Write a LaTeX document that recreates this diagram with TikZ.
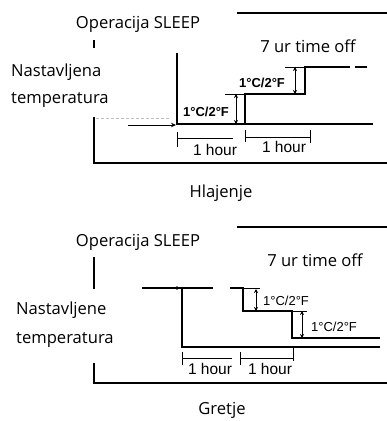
\documentclass[tikz,border=0pt]{standalone}
\usepackage{fontspec}
\setmainfont{Open Sans}
\newfontfamily\arialf{Liberation Sans}
\usetikzlibrary{arrows.meta}
\tikzset{
  lbl/.style={font=\fontsize{16.6}{18}\selectfont, inner sep=0pt},
  deg/.style={font=\arialf\bfseries\fontsize{13}{14}\selectfont, inner sep=0pt},
  degr/.style={font=\arialf\fontsize{13}{14}\selectfont, inner sep=0pt},
  hr/.style={font=\arialf\fontsize{15.5}{16}\selectfont, inner sep=0pt},
  frameline/.style={line width=1.6pt},
  stepline/.style={line width=1.3pt},
  thinline/.style={line width=0.9pt},
  dimarrow/.style={line width=0.9pt, {Stealth[length=4pt,width=4pt]}-{Stealth[length=4pt,width=4pt]}},
}
\begin{document}
\begin{tikzpicture}[x=1pt,y=-1pt]
\useasboundingbox (0,0) rectangle (387,421);
% ================= TOP (Hlajenje) =================
\node[lbl] (t1) at (138,24) {Operacija SLEEP};
\node[lbl] (t2) at (308,46) {7 ur time off};
\node[lbl,anchor=west] (t3) at (11,72) {Nastavljena};
\node[lbl,anchor=west] (t4) at (11,100) {temperatura};
\node[lbl] (t5) at (221,193) {Hlajenje};
% frame
\coordinate (fa1) at (237,13);
\coordinate (fa2) at (387,13);
\draw[frameline] (fa1) -- (fa2);
\coordinate (fb1) at (94,40);
\coordinate (fb2) at (94,48);
\draw[frameline] (fb1) -- (fb2);
\coordinate (fc1) at (94,117);
\coordinate (fc2) at (94,163);
\coordinate (fc3) at (387,163);
\draw[frameline] (fc1) -- (fc2) -- (fc3);
% faint dashed
\coordinate (dd1) at (96,118);
\coordinate (dd2) at (170,118);
\draw[gray!50, line width=0.5pt, densely dashed] (dd1) -- (dd2);
% arrow in
\coordinate (ar1) at (128,125);
\coordinate (ar2) at (176,125);
\draw[thinline, -{Stealth[length=5pt,width=4.5pt]}] (ar1) -- (ar2);
% main lines
\coordinate (v1a) at (177,53);
\coordinate (v1b) at (177,124);
\coordinate (base) at (373,124);
\draw[stepline] (v1a) -- (v1b) -- (base);
\coordinate (s1a) at (245,124);
\coordinate (s1b) at (245,94);
\coordinate (s1c) at (305,94);
\coordinate (s1d) at (305,67);
\coordinate (s1e) at (350,67);
\draw[stepline] (s1a) -- (s1b) -- (s1c) -- (s1d) -- (s1e);
\coordinate (s1f) at (355,67);
\coordinate (s1g) at (367,67);
\draw[stepline] (s1f) -- (s1g);
\coordinate (ex1a) at (225,94);
\draw[thinline] (ex1a) -- (s1b);
\coordinate (ex2a) at (285,67);
\draw[thinline] (ex2a) -- (s1d);
% dimension arrows
\coordinate (da1) at (236,94);
\coordinate (da2) at (236,124);
\draw[dimarrow] (da1) -- (da2);
\coordinate (db1) at (295,67);
\coordinate (db2) at (295,94);
\draw[dimarrow] (db1) -- (db2);
\node[deg] (d1) at (206,112) {1°C/2°F};
\node[deg] (d2) at (262,83) {1°C/2°F};
% hour brackets
\coordinate (h1a) at (177,132);
\coordinate (h1b) at (177,147);
\draw[thinline] (h1a) -- (h1b);
\coordinate (h1c) at (177,138);
\coordinate (h1d) at (233,138);
\draw[thinline] (h1c) -- (h1d);
\coordinate (h2a) at (245,130);
\coordinate (h2b) at (245,142);
\draw[thinline] (h2a) -- (h2b);
\coordinate (h2c) at (245,137);
\coordinate (h2d) at (310,137);
\draw[thinline] (h2c) -- (h2d);
\coordinate (h2e) at (310,130);
\coordinate (h2f) at (310,143);
\draw[thinline] (h2e) -- (h2f);
\node[hr] (hh1) at (215,150) {1 hour};
\node[hr] (hh2) at (284,147) {1 hour};

% ================= BOTTOM (Gretje) =================
\node[lbl] (b1) at (138,242) {Operacija SLEEP};
\node[lbl] (b2) at (315,260) {7 ur time off};
\node[lbl,anchor=west] (b3) at (16,310) {Nastavljene};
\node[lbl,anchor=west] (b4) at (16,340) {temperatura};
\node[lbl] (b5) at (222,410) {Gretje};
% frame
\coordinate (ga1) at (237,227);
\coordinate (ga2) at (387,227);
\draw[frameline] (ga1) -- (ga2);
\coordinate (gb1) at (94,257);
\coordinate (gb2) at (94,289);
\draw[frameline] (gb1) -- (gb2);
\coordinate (gc1) at (94,363);
\coordinate (gc2) at (94,383);
\coordinate (gc3) at (387,383);
\draw[frameline] (gc1) -- (gc2) -- (gc3);
% lines
\coordinate (p0) at (142,288);
\coordinate (p1) at (213,288);
\draw[stepline] (p0) -- (p1);
\coordinate (pd) at (177,288);
\fill (pd) circle (1.8pt);
\coordinate (w1a) at (182,288);
\coordinate (w1b) at (182,347);
\coordinate (w1c) at (380,347);
\draw[stepline] (w1a) -- (w1b) -- (w1c);
\coordinate (q0) at (230,288);
\coordinate (q1) at (243,288);
\coordinate (q2) at (243,311);
\coordinate (q3) at (292,311);
\coordinate (q4) at (292,338);
\coordinate (q5) at (380,338);
\draw[stepline] (q0) -- (q1) -- (q2) -- (q3) -- (q4) -- (q5);
\coordinate (qx1) at (260,288);
\draw[thinline] (q1) -- (qx1);
\coordinate (qx2) at (307,311);
\draw[thinline] (q3) -- (qx2);
% dimension arrows
\coordinate (ea1) at (256,289);
\coordinate (ea2) at (256,311);
\draw[dimarrow] (ea1) -- (ea2);
\coordinate (eb1) at (302,311);
\coordinate (eb2) at (302,338);
\draw[dimarrow] (eb1) -- (eb2);
\node[degr] (e1) at (286,301) {1°C/2°F};
\node[degr] (e2) at (334,327) {1°C/2°F};
% hour brackets
\coordinate (k1a) at (182,352);
\coordinate (k1b) at (182,365);
\draw[thinline] (k1a) -- (k1b);
\coordinate (k1c) at (182,358);
\coordinate (k1d) at (232,358);
\draw[thinline] (k1c) -- (k1d);
\coordinate (k2a) at (240,352);
\coordinate (k2b) at (240,365);
\draw[thinline] (k2a) -- (k2b);
\coordinate (k2c) at (240,358);
\coordinate (k2d) at (293,358);
\draw[thinline] (k2c) -- (k2d);
\coordinate (k2e) at (293,348);
\coordinate (k2f) at (293,361);
\draw[thinline] (k2e) -- (k2f);
\node[hr] (kk1) at (210,369) {1 hour};
\node[hr] (kk2) at (270,369) {1 hour};
\end{tikzpicture}
\end{document}
